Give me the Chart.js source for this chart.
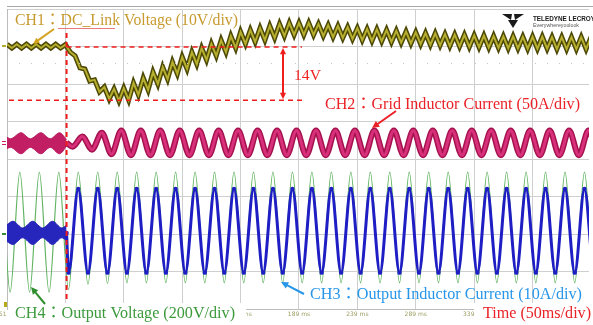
<!DOCTYPE html>
<html>
<head>
<meta charset="utf-8">
<script src="https://cdn.jsdelivr.net/npm/chart.js@4.4.1/dist/chart.umd.min.js"></script>
<style>
  html, body { margin: 0; padding: 0; background: #fff; }
  #wrap { width: 593px; height: 325px; position: relative; }
</style>
</head>
<body>
<div id="wrap"><canvas id="scope"></canvas></div>
<script>
// time axis in ms, vertical axis in screen divisions
var xMin = -61, xMax = 437.3;
var yMin = -4, yMax = 4;
var xTickValues = [-61, -11, 39, 89, 139, 189, 239, 289, 339, 389];
var xTickLabels = ['-61 ms', '-11 ms', '39 ms', '89 ms', '139 ms', '189 ms', '239 ms', '289 ms', '339 ms', '389 ms'];

var stepTime = -10;        // load step (ms)
var linePeriod = 16.67;    // 60 Hz
var ripplePeriod = 8.333;  // 120 Hz

// CH1 DC link voltage: ripple highs / lows per 120 Hz cycle from -61 ms
var ch1High = [3.06, 3.06, 3.06, 3.06, 3.06, 3.06, 3.05, 2.75, 2.40, 2.11,
  1.92, 1.87, 1.89, 2.03, 2.16, 2.32, 2.45, 2.59, 2.72, 2.85,
  2.96, 3.07, 3.17, 3.28, 3.39, 3.44, 3.49, 3.55, 3.60, 3.63,
  3.63, 3.63, 3.60, 3.57, 3.55, 3.52, 3.49, 3.47, 3.46, 3.44,
  3.42, 3.40, 3.38, 3.36, 3.35, 3.33, 3.32, 3.31, 3.30, 3.29,
  3.28, 3.27, 3.27, 3.26, 3.26, 3.26, 3.25, 3.25, 3.25, 3.25, 3.25];
var ch1Low = [2.96, 2.96, 2.96, 2.96, 2.96, 2.96, 2.85, 2.43, 2.08, 1.79,
  1.60, 1.55, 1.57, 1.71, 1.84, 2.00, 2.13, 2.27, 2.40, 2.53,
  2.64, 2.75, 2.85, 2.96, 3.07, 3.12, 3.17, 3.23, 3.28, 3.31,
  3.31, 3.31, 3.28, 3.25, 3.23, 3.20, 3.17, 3.15, 3.14, 3.12,
  3.10, 3.08, 3.06, 3.04, 3.03, 3.01, 3.00, 2.99, 2.98, 2.97,
  2.96, 2.95, 2.95, 2.94, 2.94, 2.94, 2.93, 2.93, 2.93, 2.93, 2.93];
var ch1Before = 2.99, ch1Dip = 1.57;   // the 14V markers

// CH2 grid inductor current: envelope before the step, then 60 Hz cycles
var ch2BandTimes = [-61, -58, -49, -41, -32, -24, -16, -10];
var ch2BandHigh = [0.58, 0.54, 0.70, 0.54, 0.70, 0.54, 0.70, 0.52];
var ch2BandLow = [0.28, 0.31, 0.14, 0.31, 0.14, 0.31, 0.14, 0.34];
var ch2Troughs = [0.33, 0.25, 0.13, 0.10, 0.10, 0.10, 0.10, 0.10, 0.10, 0.10,
  0.10, 0.10, 0.10, 0.10, 0.10, 0.10, 0.10, 0.10, 0.10, 0.10,
  0.10, 0.10, 0.10, 0.10, 0.10, 0.10, 0.10, 0.10];
var ch2Peaks = [0.60, 0.70, 0.76, 0.76, 0.76, 0.76, 0.76, 0.76, 0.76, 0.76,
  0.76, 0.76, 0.76, 0.76, 0.76, 0.76, 0.76, 0.76, 0.76, 0.76,
  0.76, 0.76, 0.76, 0.76, 0.76, 0.76, 0.76, 0.76];

// CH3 output inductor current
var ch3BandTimes = [-61, -56, -47.5, -39, -30.5, -22, -14, -10];
var ch3BandHigh = [-1.75, -1.66, -1.84, -1.66, -1.84, -1.66, -1.84, -1.76];
var ch3BandLow = [-2.20, -2.28, -2.10, -2.28, -2.10, -2.28, -2.10, -2.18];
var ch3Start = -1.97;
var ch3Troughs = [-3.03, -3.03, -3.03, -3.03, -3.03, -3.03, -3.03, -3.03, -3.03, -3.03,
  -3.03, -3.03, -3.03, -3.03, -3.03, -3.03, -3.03, -3.03, -3.03, -3.03,
  -3.03, -3.03, -3.03, -3.03, -3.03, -3.03, -3.03, -3.03];
var ch3Peaks = [-0.80, -0.80, -0.80, -0.80, -0.80, -0.80, -0.80, -0.80, -0.80, -0.80,
  -0.80, -0.80, -0.80, -0.80, -0.80, -0.80, -0.80, -0.80, -0.80, -0.80,
  -0.80, -0.80, -0.80, -0.80, -0.80, -0.80, -0.80, -0.80];

// CH4 output voltage, troughs from -75 ms
var ch4Troughs = [-3.55, -3.55, -3.55, -3.55, -3.48, -3.34, -3.32, -3.30, -3.30, -3.30,
  -3.30, -3.30, -3.30, -3.30, -3.30, -3.30, -3.30, -3.30, -3.30, -3.30,
  -3.30, -3.30, -3.30, -3.30, -3.30, -3.30, -3.30, -3.30, -3.30, -3.30, -3.30, -3.30];
var ch4Peaks = [-0.35, -0.35, -0.35, -0.35, -0.35, -0.35, -0.35, -0.35, -0.35, -0.35,
  -0.35, -0.35, -0.35, -0.35, -0.35, -0.35, -0.35, -0.35, -0.35, -0.35,
  -0.35, -0.35, -0.35, -0.35, -0.35, -0.35, -0.35, -0.35, -0.35, -0.35, -0.35, -0.35];

// alternate two lists of extremes, half a period apart
function wave(t0, period, first, second) {
    var pts = [];
    for (var i = 0; i < first.length; i++) {
        pts.push({ x: t0 + i * period, y: first[i] });
        if (i < second.length) pts.push({ x: t0 + i * period + period / 2, y: second[i] });
    }
    return pts;
}
function band(times, vals) {
    return times.map(function (t, i) { return { x: t, y: vals[i] }; });
}

var ch1Pts = wave(xMin, ripplePeriod, ch1High, ch1Low);
var ch2Pts = [{ x: stepTime, y: 0.43 }].concat(wave(-4.83, linePeriod, ch2Troughs, ch2Peaks));
var ch3Pts = [{ x: stepTime, y: ch3Start }].concat(wave(-8.33, linePeriod, ch3Troughs, ch3Peaks));
var ch4Pts = wave(-75, linePeriod, ch4Troughs, ch4Peaks);

var serif = '"Liberation Serif", "Noto Sans CJK KR", serif';

function fitText(ctx, str, x, base, width, size, color) {
    ctx.font = size + 'px ' + serif;
    var w = ctx.measureText(str).width;
    ctx.save();
    ctx.translate(x, base);
    ctx.scale(width / w, 1);
    ctx.fillStyle = color;
    ctx.textAlign = 'left';
    ctx.textBaseline = 'alphabetic';
    ctx.fillText(str, 0, 0);
    ctx.restore();
}

function head(ctx, x1, y1, x2, y2, len) {
    var a = Math.atan2(y2 - y1, x2 - x1);
    ctx.beginPath();
    ctx.moveTo(x2, y2);
    ctx.lineTo(x2 - len * Math.cos(a - 0.45), y2 - len * Math.sin(a - 0.45));
    ctx.lineTo(x2 - len * Math.cos(a + 0.45), y2 - len * Math.sin(a + 0.45));
    ctx.closePath();
    ctx.fill();
}

function arrow(ctx, x1, y1, x2, y2, color, w, len) {
    var a = Math.atan2(y2 - y1, x2 - x1);
    ctx.strokeStyle = color;
    ctx.fillStyle = color;
    ctx.lineWidth = w;
    ctx.setLineDash([]);
    ctx.beginPath();
    ctx.moveTo(x1, y1);
    ctx.lineTo(x2 - Math.cos(a) * len * 0.7, y2 - Math.sin(a) * len * 0.7);
    ctx.stroke();
    head(ctx, x1, y1, x2, y2, len);
}

var decor = {
    id: 'decor',
    afterDraw: function (chart) {
        var ctx = chart.ctx;
        var xs = chart.scales.x, ys = chart.scales.y;
        var area = chart.chartArea;
        ctx.save();

        // scope frame bits
        ctx.strokeStyle = '#a8a8a8';
        ctx.lineWidth = 1;
        ctx.beginPath();
        ctx.moveTo(7, 6.5); ctx.lineTo(593, 6.5);
        ctx.stroke();
        ctx.strokeStyle = '#c4c4c4';
        ctx.setLineDash([1, 11]);
        ctx.beginPath();
        ctx.moveTo(area.left + 12, 63.5); ctx.lineTo(area.right, 63.5);
        ctx.stroke();
        ctx.setLineDash([]);

        // left channel markers
        ctx.fillStyle = '#b4ac2c'; ctx.fillRect(2, 45, 4, 2);
        ctx.fillStyle = '#c8206a'; ctx.fillRect(2, 141, 4, 1); ctx.fillRect(2, 144, 4, 1);
        ctx.fillStyle = '#3a8a3a'; ctx.fillRect(2, 233, 4, 2);
        ctx.fillStyle = '#b8a820'; ctx.fillRect(4, 302, 3, 5);

        // red dashed markers
        var xStep = xs.getPixelForValue(stepTime);
        var yPre = ys.getPixelForValue(ch1Before);
        var yDip = ys.getPixelForValue(ch1Dip);
        ctx.strokeStyle = '#f01c1c';
        ctx.setLineDash([5, 4]);
        ctx.lineWidth = 2;
        ctx.beginPath();
        ctx.moveTo(xStep, 33); ctx.lineTo(xStep, 301);
        ctx.stroke();
        ctx.lineWidth = 1.5;
        ctx.beginPath();
        ctx.moveTo(xStep, yPre); ctx.lineTo(302, yPre);
        ctx.moveTo(9, yDip); ctx.lineTo(302, yDip);
        ctx.stroke();
        ctx.setLineDash([]);

        // 14V double arrow
        ctx.strokeStyle = '#f01c1c';
        ctx.fillStyle = '#f01c1c';
        ctx.lineWidth = 2;
        ctx.beginPath();
        ctx.moveTo(283, yPre + 5); ctx.lineTo(283, yDip - 5);
        ctx.stroke();
        head(ctx, 283, yDip, 283, yPre + 1, 7);
        head(ctx, 283, yPre, 283, yDip - 1, 7);
        fitText(ctx, '14V', 294, 80, 27, 14, '#ee2020');

        // channel captions
        fitText(ctx, 'CH1\uFF1ADC_Link Voltage (10V/div)', 15, 25, 223, 16, '#c89a2e');
        ctx.strokeStyle = '#e87a7a';
        ctx.lineWidth = 1;
        ctx.beginPath();
        ctx.moveTo(58, 28.5); ctx.lineTo(115, 28.5);
        ctx.stroke();
        arrow(ctx, 54, 29, 33, 44, '#d6a21e', 2, 7);

        fitText(ctx, 'CH2\uFF1AGrid Inductor Current (50A/div)', 325, 109, 255, 16, '#ea2228');
        arrow(ctx, 396, 111, 372, 128, '#ea2228', 2, 8);

        fitText(ctx, 'CH3\uFF1AOutput Inductor Current (10A/div)', 310, 299, 272, 16, '#2896e8');
        arrow(ctx, 304, 294, 281, 282, '#2896e8', 2, 8);

        ctx.fillStyle = '#ffffff';
        ctx.fillRect(8, 303, 238, 22);
        ctx.fillRect(474, 303, 119, 22);
        fitText(ctx, 'CH4\uFF1AOutput Voltage (200V/div)', 15, 318, 220, 16, '#3c9a3c');
        arrow(ctx, 45, 304, 31, 287, '#2f8f2f', 2, 8);
        fitText(ctx, 'Time (50ms/div)', 483, 318, 108, 16, '#ea2228');

        // logo
        ctx.fillStyle = '#ffffff';
        ctx.fillRect(500, 10, 93, 19);
        ctx.fillStyle = '#1a1a1a';
        ctx.beginPath();
        ctx.moveTo(502, 14); ctx.lineTo(512, 14); ctx.lineTo(511, 20); ctx.closePath(); ctx.fill();
        ctx.beginPath();
        ctx.moveTo(514, 14); ctx.lineTo(524, 14); ctx.lineTo(515, 20); ctx.closePath(); ctx.fill();
        ctx.beginPath();
        ctx.moveTo(508, 20); ctx.lineTo(518, 20); ctx.lineTo(513, 28); ctx.closePath(); ctx.fill();
        ctx.font = 'bold 8px "Liberation Sans", sans-serif';
        var w1 = ctx.measureText('TELEDYNE LECROY').width;
        ctx.save(); ctx.translate(533, 21); ctx.scale(62 / w1, 1);
        ctx.fillText('TELEDYNE LECROY', 0, 0); ctx.restore();
        ctx.fillStyle = '#555';
        ctx.font = '6px "Liberation Sans", sans-serif';
        var w2 = ctx.measureText('Everywhereyoulook').width;
        ctx.save(); ctx.translate(533, 27); ctx.scale(46 / w2, 1);
        ctx.fillText('Everywhereyoulook', 0, 0); ctx.restore();

        ctx.restore();
    }
};

var ctx = document.getElementById('scope').getContext('2d');

var scope = new Chart(ctx, {
    type: 'line',
    data: {
        datasets: [
            // CH1, light core over dark edge
            { data: ch1Pts, borderColor: '#b6ae2e', borderWidth: 2, tension: 0, order: 0 },
            { data: ch1Pts, borderColor: '#4c4806', borderWidth: 5, tension: 0, order: 1 },
            // CH2
            { data: ch2Pts, borderColor: '#d8307a', borderWidth: 3, cubicInterpolationMode: 'monotone', order: 2 },
            { data: ch2Pts, borderColor: '#a4124e', borderWidth: 6, cubicInterpolationMode: 'monotone', order: 3 },
            { data: band(ch2BandTimes, ch2BandHigh), borderColor: '#b8185c', backgroundColor: '#c21e64', borderWidth: 1, cubicInterpolationMode: 'monotone', fill: '+1', order: 4 },
            { data: band(ch2BandTimes, ch2BandLow), borderColor: '#b8185c', borderWidth: 1, cubicInterpolationMode: 'monotone', order: 5 },
            // CH3
            { data: ch3Pts, borderColor: '#1e1ec4', borderWidth: 3, cubicInterpolationMode: 'monotone',
              pointRadius: 2.2, pointBackgroundColor: '#1e1ec4', pointBorderWidth: 0, order: 6 },
            { data: band(ch3BandTimes, ch3BandHigh), borderColor: '#2222b4', backgroundColor: '#2626bc', borderWidth: 1, cubicInterpolationMode: 'monotone', fill: '+1', order: 7 },
            { data: band(ch3BandTimes, ch3BandLow), borderColor: '#2222b4', borderWidth: 1, cubicInterpolationMode: 'monotone', order: 8 },
            // CH4
            { data: ch4Pts, borderColor: '#62b462', borderWidth: 1.2, cubicInterpolationMode: 'monotone', order: 9 }
        ]
    },
    options: {
        responsive: true,
        maintainAspectRatio: false,
        animation: false,
        layout: { padding: { top: 9, left: 0, right: 0, bottom: 0 } },
        elements: { point: { radius: 0 } },
        plugins: { legend: { display: false }, tooltip: { enabled: false } },
        scales: {
            x: {
                type: 'linear',
                min: xMin,
                max: xMax,
                afterBuildTicks: function (s) {
                    s.ticks = xTickValues.map(function (v) { return { value: v }; });
                },
                afterFit: function (s) {
                    s.height = 16;
                    s.paddingLeft = 0;
                    s.paddingRight = 0;
                },
                grid: { color: '#cfcfcf', drawTicks: false },
                border: { color: '#bcbcbc' },
                ticks: {
                    autoSkip: false,
                    maxRotation: 0,
                    padding: 2,
                    color: '#9c9c62',
                    font: { size: 6, family: 'DejaVu Sans' },
                    callback: function (v, i) { return xTickLabels[i]; }
                }
            },
            y: {
                min: yMin,
                max: yMax,
                afterFit: function (s) { s.width = 7; },
                ticks: { display: false, stepSize: 1 },
                grid: { color: '#cfcfcf', drawTicks: false },
                border: { color: '#bcbcbc' }
            }
        }
    },
    plugins: [decor]
});
</script>
</body>
</html>
